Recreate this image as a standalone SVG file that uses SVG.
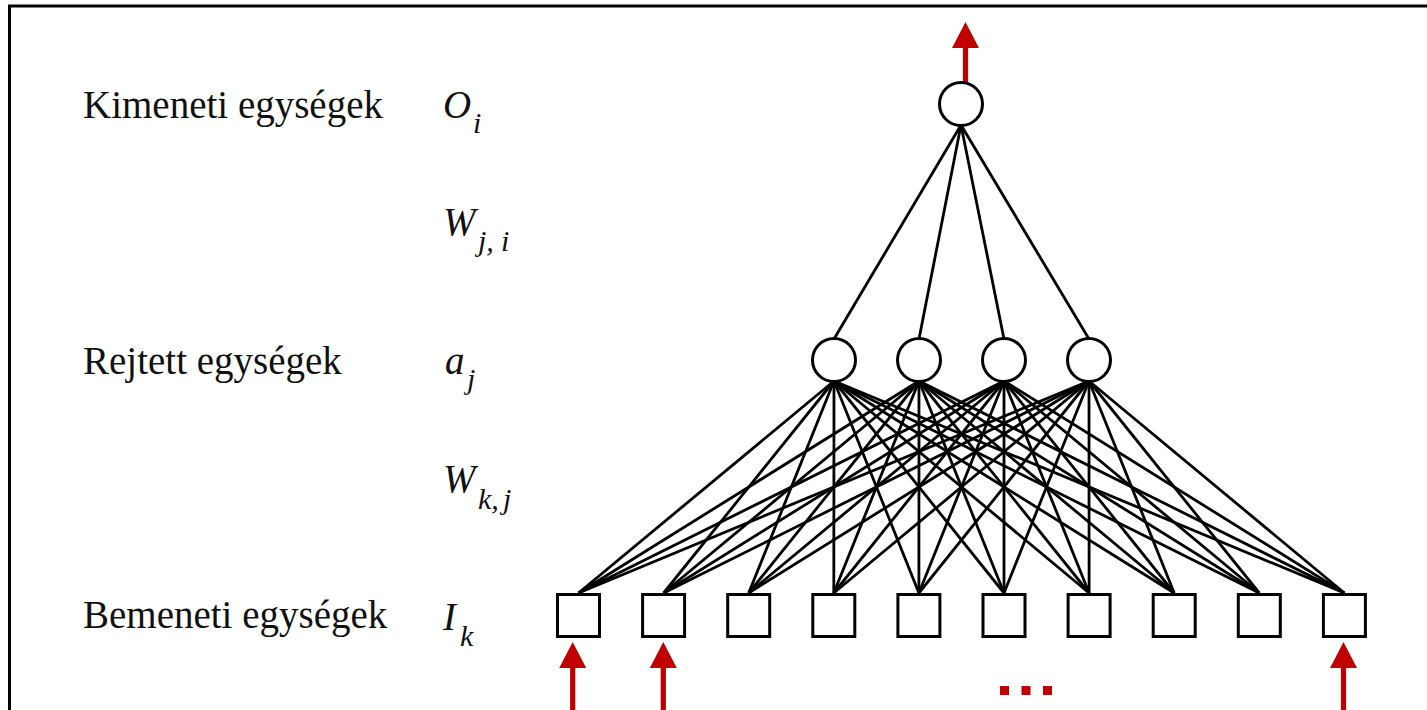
<svg xmlns="http://www.w3.org/2000/svg" xmlns:xlink="http://www.w3.org/1999/xlink" width="1427" height="710" viewBox="0 0 1427 710">
<style>
.lbl{font-family:"Liberation Serif","Times New Roman",serif;font-size:39px;fill:#111}
.sym{font-family:"Liberation Serif","Times New Roman",serif;font-size:39px;font-style:italic;fill:#111}
.sub{font-family:"Liberation Serif","Times New Roman",serif;font-size:30px;font-style:italic;fill:#111}
.unit{fill:#fff;stroke:#000;stroke-width:3}
.conn line{stroke:#000;stroke-width:2.8}
.io{fill:#c00000}
.frame{stroke:#000;stroke-width:3;fill:none}
</style>
<defs>
<path id="arr" d="M0,0 L13.5,26 L2.6,26 L2.6,70 L-2.6,70 L-2.6,26 L-13.5,26 Z"/>
</defs>
<rect width="1427" height="710" fill="#fff"/>
<path class="frame" d="M9.5,710 L9.5,6 L1427,6"/>

<g id="labels">
<text class="lbl" x="83" y="118">Kimeneti egységek</text>
<text class="lbl" x="83" y="374">Rejtett egységek</text>
<text class="lbl" x="83" y="628">Bemeneti egységek</text>
<text class="sym" x="443" y="118">O</text><text class="sub" x="473" y="133">i</text>
<text class="sym" x="443" y="235">W</text><text class="sub" x="478" y="251">j,</text><text class="sub" x="501" y="251">i</text>
<text class="sym" x="445" y="374">a</text><text class="sub" x="467" y="389">j</text>
<text class="sym" x="443" y="492">W</text><text class="sub" x="478" y="509">k,</text><text class="sub" x="503" y="509">j</text>
<text class="sym" x="443" y="630">I</text><text class="sub" x="460" y="646">k</text>
</g>

<g id="connectors" class="conn">
<line x1="961" y1="125" x2="834" y2="339"/>
<line x1="961" y1="125" x2="919" y2="339"/>
<line x1="961" y1="125" x2="1004" y2="339"/>
<line x1="961" y1="125" x2="1089" y2="339"/>
<g id="h1-in">
<line x1="834" y1="381" x2="578.5" y2="593"/><line x1="834" y1="381" x2="663.6" y2="593"/><line x1="834" y1="381" x2="748.7" y2="593"/><line x1="834" y1="381" x2="833.8" y2="593"/><line x1="834" y1="381" x2="918.9" y2="593"/><line x1="834" y1="381" x2="1004" y2="593"/><line x1="834" y1="381" x2="1089.1" y2="593"/><line x1="834" y1="381" x2="1174.2" y2="593"/><line x1="834" y1="381" x2="1259.3" y2="593"/><line x1="834" y1="381" x2="1344.4" y2="593"/>
</g>
<g id="h2-in">
<line x1="919" y1="381" x2="578.5" y2="593"/><line x1="919" y1="381" x2="663.6" y2="593"/><line x1="919" y1="381" x2="748.7" y2="593"/><line x1="919" y1="381" x2="833.8" y2="593"/><line x1="919" y1="381" x2="918.9" y2="593"/><line x1="919" y1="381" x2="1004" y2="593"/><line x1="919" y1="381" x2="1089.1" y2="593"/><line x1="919" y1="381" x2="1174.2" y2="593"/><line x1="919" y1="381" x2="1259.3" y2="593"/><line x1="919" y1="381" x2="1344.4" y2="593"/>
</g>
<g id="h3-in">
<line x1="1004" y1="381" x2="578.5" y2="593"/><line x1="1004" y1="381" x2="663.6" y2="593"/><line x1="1004" y1="381" x2="748.7" y2="593"/><line x1="1004" y1="381" x2="833.8" y2="593"/><line x1="1004" y1="381" x2="918.9" y2="593"/><line x1="1004" y1="381" x2="1004" y2="593"/><line x1="1004" y1="381" x2="1089.1" y2="593"/><line x1="1004" y1="381" x2="1174.2" y2="593"/><line x1="1004" y1="381" x2="1259.3" y2="593"/><line x1="1004" y1="381" x2="1344.4" y2="593"/>
</g>
<g id="h4-in">
<line x1="1089" y1="381" x2="578.5" y2="593"/><line x1="1089" y1="381" x2="663.6" y2="593"/><line x1="1089" y1="381" x2="748.7" y2="593"/><line x1="1089" y1="381" x2="833.8" y2="593"/><line x1="1089" y1="381" x2="918.9" y2="593"/><line x1="1089" y1="381" x2="1004" y2="593"/><line x1="1089" y1="381" x2="1089.1" y2="593"/><line x1="1089" y1="381" x2="1174.2" y2="593"/><line x1="1089" y1="381" x2="1259.3" y2="593"/><line x1="1089" y1="381" x2="1344.4" y2="593"/>
</g>
</g>

<g id="io-arrows" class="io">
<use xlink:href="#arr" href="#arr" transform="translate(965.5,22)"/>
<use xlink:href="#arr" href="#arr" transform="translate(572.7,642)"/>
<use xlink:href="#arr" href="#arr" transform="translate(663.3,642)"/>
<use xlink:href="#arr" href="#arr" transform="translate(1343.5,642)"/>
<rect x="1000" y="686" width="9" height="9"/>
<rect x="1021.5" y="686" width="9" height="9"/>
<rect x="1043" y="686" width="9" height="9"/>
</g>

<g id="output-node"><circle class="unit" cx="961" cy="104" r="21.5"/></g>
<g id="hidden-1"><circle class="unit" cx="834" cy="360" r="21.5"/></g>
<g id="hidden-2"><circle class="unit" cx="919" cy="360" r="21.5"/></g>
<g id="hidden-3"><circle class="unit" cx="1004" cy="360" r="21.5"/></g>
<g id="hidden-4"><circle class="unit" cx="1089" cy="360" r="21.5"/></g>

<g id="input-1"><rect class="unit" x="557.5" y="594.5" width="42" height="42"/></g>
<g id="input-2"><rect class="unit" x="642.6" y="594.5" width="42" height="42"/></g>
<g id="input-3"><rect class="unit" x="727.7" y="594.5" width="42" height="42"/></g>
<g id="input-4"><rect class="unit" x="812.8" y="594.5" width="42" height="42"/></g>
<g id="input-5"><rect class="unit" x="897.9" y="594.5" width="42" height="42"/></g>
<g id="input-6"><rect class="unit" x="983" y="594.5" width="42" height="42"/></g>
<g id="input-7"><rect class="unit" x="1068.1" y="594.5" width="42" height="42"/></g>
<g id="input-8"><rect class="unit" x="1153.2" y="594.5" width="42" height="42"/></g>
<g id="input-9"><rect class="unit" x="1238.3" y="594.5" width="42" height="42"/></g>
<g id="input-10"><rect class="unit" x="1323.4" y="594.5" width="42" height="42"/></g>
</svg>
